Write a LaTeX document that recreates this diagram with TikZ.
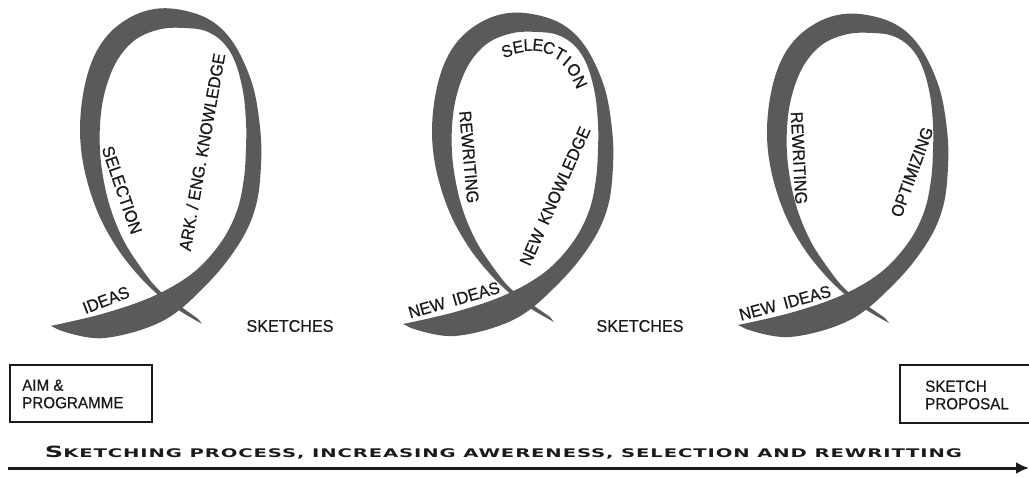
\documentclass[tikz,border=0pt]{standalone}
\usepackage{fontspec}
\usepackage{graphicx}
\setmainfont{Liberation Sans}
\newfontfamily\lblfont[FakeBold=0.6,FakeStretch=0.95]{Liberation Sans}
\newfontfamily\widefont[FakeStretch=1.35,LetterSpace=6]{DejaVu Sans}
\usetikzlibrary{arrows.meta}
\definecolor{rib}{HTML}{5A5A5A}
\definecolor{ink}{HTML}{1A1A1A}
\tikzset{
  ribbon/.style={fill=rib,draw=none},
  lbl/.style={font=\lblfont\fontsize{17}{17}\selectfont,text=ink,inner sep=0pt},
  boxnode/.style={draw=ink,line width=1.3pt,inner sep=0pt},
  boxtext/.style={font=\lblfont\fontsize{16}{17.5}\selectfont,text=ink,align=left,inner sep=0pt,anchor=west},
  ribbonshape/.style={insert path={
    plot[smooth,tension=0.6] coordinates {(746,329) (790,337) (850,320) (895,283) (927,243) (943,207) (948,167) (947,130) (939,87) (920,47) (895,24) (860,14) (830,17) (803,32) (784,55) (772,88) (767,130) (771,170) (784,212) (803,247) (825,275) (848,297) (868,311) (889,323)}
    -- plot[smooth,tension=0.6] coordinates {(885,318) (865,304) (845,289) (828,268) (810,240) (796,205) (788,165) (787,128) (792,95) (804,65) (823,44) (848,34) (873,33) (893,36) (910,47) (922,66) (930,95) (933,125) (933,150) (931,180) (924,212) (908,243) (880,273) (840,296) (790,313) (738,325)}
    -- cycle}},
}
\begin{document}
\begin{tikzpicture}[x=1pt,y=-1pt]
\useasboundingbox (0,0) rectangle (1029,478);
% ---------- the three loops
\begin{scope}[shift={(-687,331)},yscale=1.02,shift={(0,-330)}]
  \fill[ribbon,ribbonshape];
\end{scope}
\begin{scope}[shift={(-335,-1)}]
  \fill[ribbon,ribbonshape];
\end{scope}
\fill[ribbon,ribbonshape];
% ---------- loop 1 labels
\node[lbl,rotate=-71] (sel1) at (122,190) {SELECTION};
\node[lbl,rotate=80] (ark) at (202,152) {ARK. / ENG.\ KNOWLEDGE};
\node[lbl,rotate=21] (ideas1) at (106,300) {IDEAS};
% ---------- loop 2 labels
\foreach \ch/\px/\py/\r [count=\i] in {S/507/51/18, E/518/47/11, L/528/45/3, E/538/45/-6, C/549/48/-17, T/560/54/-30, I/567/61/-40, O/574/70/-52, N/580/82/-65}
  \node[lbl,rotate=\r] (sel2-\i) at (\px,\py) {\ch};
\node[lbl,rotate=-85] (rew2) at (469,157) {REWRITING};
\node[lbl,rotate=16] (ni2) at (454,300) {NEW\hspace{8pt}IDEAS};
\node[lbl,rotate=66] (nk2) at (555,196) {NEW\hspace{7pt}KNOWLEDGE};
% ---------- loop 3 labels
\node[lbl,rotate=-87] (rew3) at (799,158) {REWRITING};
\node[lbl,rotate=70] (opt) at (912,172) {OPTIMIZING};
\node[lbl,rotate=15] (ni3) at (785,303) {NEW\hspace{8pt}IDEAS};
% ---------- sketches
\node[lbl] (sk1) at (290,326) {SKETCHES};
\node[lbl] (sk2) at (640,326) {SKETCHES};
% ---------- boxes
\node[boxnode,minimum width=142pt,minimum height=57pt] (aim) at (81,393.5) {};
\node[boxtext] (aimt) at (22,394) {AIM \&\\PROGRAMME};
\node[boxnode,minimum width=142pt,minimum height=58pt] (prop) at (971,394) {};
\node[boxtext] (propt) at (925,395) {SKETCH\\PROPOSAL};
% ---------- arrow
\coordinate (a0) at (8,468);
\coordinate (a1) at (1029,468);
\draw[line width=3pt,draw=ink,-{Latex[length=13pt,width=12pt]}] (a0) -- (a1);
\node[inner sep=0pt,text=ink,anchor=base] (proc) at (503.5,457)
  {\resizebox{917pt}{11.5pt}{\widefont\bfseries\fontsize{15}{15}\selectfont S\fontsize{11.5}{12}\selectfont KETCHING PROCESS, INCREASING AWERENESS, SELECTION AND REWRITTING}};
\end{tikzpicture}
\end{document}
